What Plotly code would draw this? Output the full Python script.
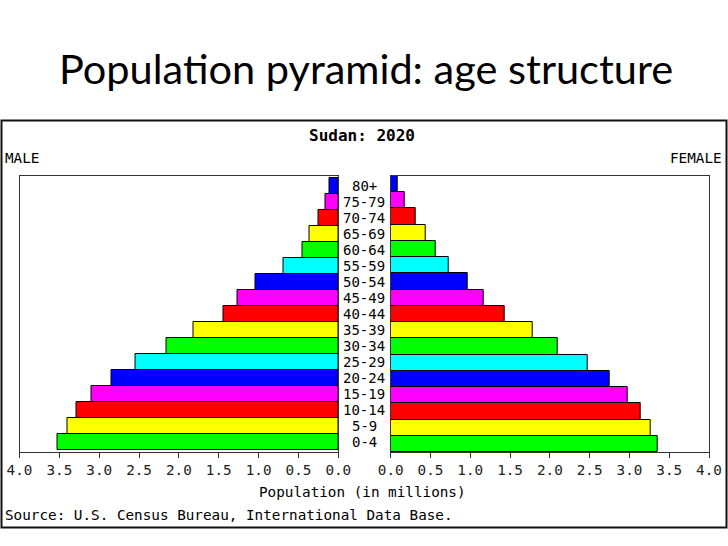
import plotly.graph_objects as go

W, H = 728, 546

ages = ["0-4", "5-9", "10-14", "15-19", "20-24", "25-29", "30-34", "35-39",
        "40-44", "45-49", "50-54", "55-59", "60-64", "65-69", "70-74", "75-79", "80+"]
male = [3.52, 3.40, 3.28, 3.10, 2.85, 2.55, 2.15, 1.82, 1.44,
        1.26, 1.04, 0.69, 0.45, 0.36, 0.25, 0.16, 0.11]
female = [3.36, 3.27, 3.14, 2.98, 2.75, 2.47, 2.10, 1.78, 1.43,
          1.17, 0.97, 0.73, 0.56, 0.44, 0.31, 0.17, 0.09]
tick_vals = [0.0, 0.5, 1.0, 1.5, 2.0, 2.5, 3.0, 3.5, 4.0]
tick_text = ["0.0", "0.5", "1.0", "1.5", "2.0", "2.5", "3.0", "3.5", "4.0"]

palette = ["#00ff00", "#ffff00", "#ff0000", "#ff00ff", "#0000ff", "#00ffff"]
bar_colors = [palette[i % len(palette)] for i in range(len(ages))]

MONO = "DejaVu Sans Mono"


def px(x):
    return x / W


def py(y):
    return 1 - y / H


fig = go.Figure()
fig.add_trace(go.Bar(y=ages, x=male, orientation="h", xaxis="x", yaxis="y",
                     marker=dict(color=bar_colors, line=dict(color="black", width=1)),
                     showlegend=False, hoverinfo="x+y"))
fig.add_trace(go.Bar(y=ages, x=female, orientation="h", xaxis="x2", yaxis="y2",
                     marker=dict(color=bar_colors, line=dict(color="black", width=1)),
                     showlegend=False, hoverinfo="x+y"))

ydom = [py(452), py(176)]
axis_common = dict(showline=True, mirror=True, linecolor="#333", linewidth=1.2,
                   showgrid=False, zeroline=False, ticks="outside", ticklen=5,
                   tickcolor="#333", tickvals=tick_vals, ticktext=tick_text,
                   automargin=False,
                   tickfont=dict(family=MONO, size=14.3, color="#222"))
yaxis_common = dict(showline=True, mirror=True, linecolor="#333", linewidth=1.2,
                    showgrid=False, zeroline=False, showticklabels=False, ticks="",
                    automargin=False,
                    categoryorder="array", categoryarray=ages, domain=ydom)

fig.update_layout(
    width=W, height=H, autosize=False, margin=dict(l=0, r=0, t=0, b=0, pad=0),
    paper_bgcolor="white", plot_bgcolor="white", bargap=0,
    xaxis=dict(domain=[px(19.5), px(338.3)], range=[4, 0], anchor="y", **axis_common),
    xaxis2=dict(domain=[px(390.7), px(709)], range=[0, 4], anchor="y2", **axis_common),
    yaxis=dict(anchor="x", **yaxis_common),
    yaxis2=dict(anchor="x2", **yaxis_common),
)

# outer frame of embedded chart
fig.add_shape(type="rect", xref="paper", yref="paper",
              x0=px(1.5), x1=px(726.5), y0=py(527.5), y1=py(120.5),
              line=dict(color="#111", width=2), layer="below")

anns = []
anns.append(dict(text="Population pyramid: age structure", x=px(366), y=py(67.5),
                 font=dict(family="Lato", size=41.5, color="black")))
anns.append(dict(text="<b>Sudan: 2020</b>", x=px(362), y=py(135),
                 font=dict(family=MONO, size=16, color="black")))
anns.append(dict(text="MALE", x=px(3), y=py(158), xanchor="left",
                 font=dict(family=MONO, size=14.3, color="black")))
anns.append(dict(text="FEMALE", x=px(724), y=py(158), xanchor="right",
                 font=dict(family=MONO, size=14.3, color="black")))
anns.append(dict(text="Population (in millions)", x=px(362), y=py(492),
                 font=dict(family=MONO, size=14.3, color="black")))
anns.append(dict(text="Source: U.S. Census Bureau, International Data Base.", x=px(3), y=py(515),
                 xanchor="left", font=dict(family=MONO, size=14.3, color="black")))
for a in anns:
    a.setdefault("xref", "paper")
    a.setdefault("yref", "paper")
    a.setdefault("xanchor", "center")
    a.setdefault("yanchor", "middle")
    a["showarrow"] = False

for age in ages:
    anns.append(dict(text=age, x=px(364), xref="paper", y=age, yref="y",
                     xanchor="center", yanchor="middle", showarrow=False,
                     font=dict(family=MONO, size=14, color="black")))

fig.update_layout(annotations=anns)
fig.write_html("out.html", config={"responsive": False, "displayModeBar": False},
               post_script="document.body.style.margin='0';document.body.style.overflow='hidden';")
